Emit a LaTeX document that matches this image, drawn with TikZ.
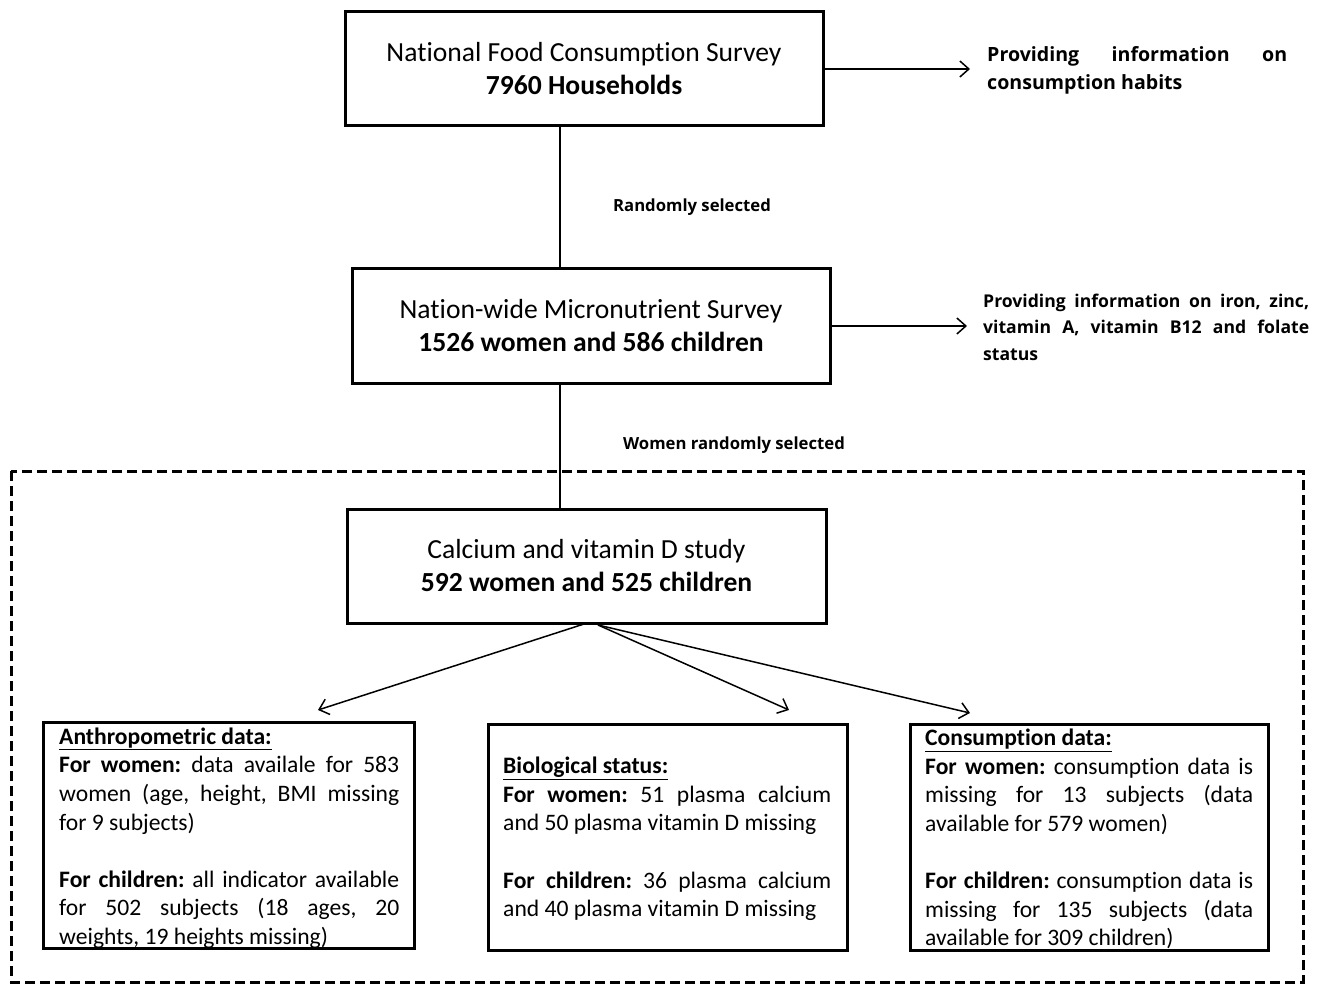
\documentclass[tikz,border=0pt]{standalone}
\usepackage{fontspec}
\setmainfont{Carlito}[Ligatures=NoCommon]
\newfontfamily\lblfont{Open Sans}
\usetikzlibrary{arrows.meta}
\frenchspacing
\begin{document}
\begin{tikzpicture}[x=1pt,y=-1pt,
  mainbox/.style={draw,line width=3pt,rectangle,minimum width=478pt,minimum height=114pt,inner sep=0pt,align=center,font=\fontsize{27.6}{33}\selectfont},
  subbox/.style={draw,line width=3pt,rectangle,inner sep=0pt},
  boxtext/.style={anchor=north west,inner sep=0pt,text width=340pt,align=justify,font=\fontsize{23.6}{28.6}\selectfont},
  thin/.style={line width=1.5pt},
  arr/.style={line width=1.5pt,-{Straight Barb[length=9pt,width=16pt,line width=1.5pt]}},
  sel/.style={font=\lblfont\bfseries\fontsize{16.7}{19}\selectfont,inner sep=0pt},
  info/.style={anchor=west,inner sep=0pt,align=justify,font=\lblfont\bfseries\fontsize{19.6}{28}\selectfont}
]
\useasboundingbox (0,0) rectangle (1320,984);
% dashed frame
\draw[line width=3pt,dash pattern=on 10pt off 5pt] (11,471) rectangle (1303,982);

\node[mainbox] (b1) at (584,69) {National Food Consumption Survey\\\textbf{7960 Households}};
\node[mainbox] (b2) at (591,326) {Nation-wide Micronutrient Survey\\\textbf{1526 women and 586 children}};
\node[mainbox,minimum width=479pt] (b3) at (586.5,566) {Calcium and vitamin D study\\\textbf{592 women and 525 children}};

\coordinate (v) at (560,0);
\draw[thin] (b1.south -| v) -- (b2.north -| v);
\draw[thin] (b2.south -| v) -- (b3.north -| v);

\node[sel] (r1) at (692,207) {Randomly selected};
\node[sel] (r2) at (734,445) {Women randomly selected};

\node[info,text width=300pt] (i1) at (987,70) {Providing information on\linebreak consumption habits};
\node[info,text width=326pt,font=\lblfont\bfseries\fontsize{17.6}{26.5}\selectfont] (i2) at (983,327) {Providing information on iron, zinc,\linebreak vitamin A, vitamin B12 and folate\linebreak status};

\coordinate (t1) at (970,69);
\coordinate (t2) at (967,326);
\draw[arr] (b1.east |- t1) -- (t1);
\draw[arr] (b2.east |- t2) -- (t2);

% bottom boxes
\node[subbox,minimum width=371pt,minimum height=226pt] (c1) at (228.5,835) {};
\node[subbox,minimum width=359pt,minimum height=226pt] (c2) at (667.5,837) {};
\node[subbox,minimum width=358pt,minimum height=226pt] (c3) at (1089,837) {};

\node[boxtext] (c1t) at (59,727.5) {\underline{\textbf{Anthropometric data:}}\\
\textbf{For women:} data availale for 583\linebreak women (age, height, BMI missing\linebreak for 9 subjects)\\[28.6pt]
\textbf{For children:} all indicator available\linebreak for 502 subjects (18 ages, 20\linebreak weights, 19 heights missing)};

\node[boxtext,text width=328pt] (c2t) at (503,757) {\underline{\textbf{Biological status:}}\\
\textbf{For women:} 51 plasma calcium\linebreak and 50 plasma vitamin D missing\\[28.6pt]
\textbf{For children:} 36 plasma calcium\linebreak and 40 plasma vitamin D missing};

\node[boxtext,text width=328pt] (c3t) at (925,729) {\underline{\textbf{Consumption data:}}\\
\textbf{For women:} consumption data is\linebreak missing for 13 subjects (data\linebreak available for 579 women)\\[28.6pt]
\textbf{For children:} consumption data is\linebreak missing for 135 subjects (data\linebreak available for 309 children)};

% arrows from study box
\coordinate (s1) at (584,624);
\coordinate (s2) at (598,625);
\coordinate (e1) at (318,710);
\coordinate (e2) at (789,710);
\coordinate (e3) at (970,713);
\draw[arr] (s1) -- (e1);
\draw[arr] (s2) -- (e2);
\draw[arr] (s2) -- (e3);
\end{tikzpicture}
\end{document}
